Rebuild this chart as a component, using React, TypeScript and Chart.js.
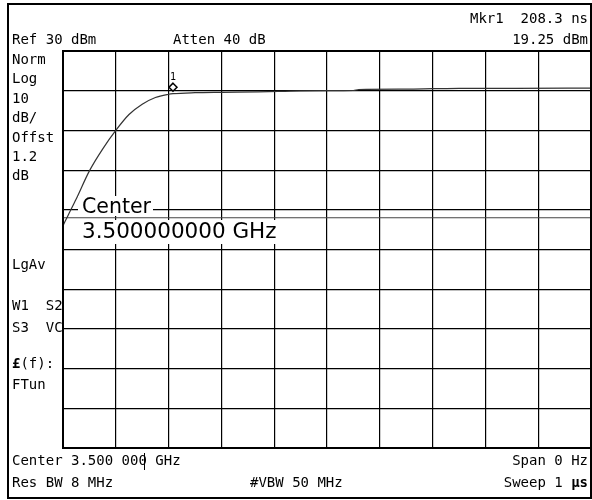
import React, { useEffect, useRef } from "react";
import { Chart, registerables } from "chart.js";
Chart.register(...registerables);

// Sweep time (ns) and measured trace level (dBm)
const sweepTimesNs = [0, 10, 25, 50, 75, 100, 125, 150, 175, 200, 208.3, 250, 300, 370, 420, 450, 500, 550, 560, 650, 700, 750, 850, 1000];
const traceDbm = [-14, -11.3, -7.3, -0.2, 5.3, 10, 14.0, 16.6, 18.3, 19.1, 19.25, 19.5, 19.6, 19.7, 19.85, 19.95, 20.0, 20.05, 20.3, 20.4, 20.5, 20.6, 20.6, 20.65];
const displayLineDbm = -12;
const markerTimeNs = 208.3;
const markerDbm = 19.25;
const xRange = [0, 1000];
const yRange = [-70, 30];

const headerLeft = ["Ref 30 dBm", "Atten 40 dB"];
const headerRight = ["Mkr1  208.3 ns", "19.25 dBm"];
const sidePanel = ["Norm", "Log", "10", "dB/", "Offst", "1.2", "dB"];
const sidePanel2 = ["LgAv", "W1  S2", "S3  VC"];
const footerLeft = ["Center 3.500 000 GHz", "Res BW 8 MHz"];
const footerMid = "#VBW 50 MHz";
const footerRight = ["Span 0 Hz", "Sweep 1 "];
const bigLabel = ["Center", "3.500000000 GHz"];

const MONO = "14px 'DejaVu Sans Mono', monospace";

export default function App() {
  const ref = useRef<HTMLCanvasElement | null>(null);
  useEffect(() => {
    const canvas = ref.current!;
    const overlay = {
      id: "overlay",
      beforeDraw(chart: any) {
        const c = chart.ctx;
        c.save();
        c.fillStyle = "#fff";
        c.fillRect(0, 0, chart.width, chart.height);
        c.restore();
      },
      afterDatasetsDraw(chart: any) {
        const c = chart.ctx;
        const { left, top, right, bottom } = chart.chartArea;
        const xs = chart.scales.x;
        const ys = chart.scales.y;
        c.save();
        // plot border
        c.strokeStyle = "#000";
        c.lineWidth = 2;
        c.strokeRect(left, top, right - left, bottom - top);
        // marker diamond
        const mx = xs.getPixelForValue(markerTimeNs);
        const my = ys.getPixelForValue(markerDbm) - 6.5;
        c.lineWidth = 1.5;
        c.beginPath();
        c.moveTo(mx, my - 4);
        c.lineTo(mx + 4, my);
        c.lineTo(mx, my + 4);
        c.lineTo(mx - 4, my);
        c.closePath();
        c.fillStyle = "#fff";
        c.fill();
        c.stroke();
        c.fillStyle = "#000";
        c.font = "10px 'DejaVu Sans Mono', monospace";
        c.textAlign = "center";
        c.fillText("1", mx, my - 7);
        // big center label boxes
        c.textAlign = "left";
        c.font = "20.5px 'DejaVu Sans', sans-serif";
        const w1 = c.measureText(bigLabel[0]).width;
        c.font = "21.5px 'DejaVu Sans', sans-serif";
        const w2 = c.measureText(bigLabel[1]).width;
        c.fillStyle = "#fff";
        c.fillRect(78, 196, w1 + 6, 20);
        c.fillRect(78, 220, w2 + 6, 24);
        c.fillStyle = "#000";
        c.font = "20.5px 'DejaVu Sans', sans-serif";
        c.fillText(bigLabel[0], 82, 213);
        c.font = "21.5px 'DejaVu Sans', sans-serif";
        c.fillText(bigLabel[1], 82, 238);
        // header texts
        c.font = MONO;
        c.fillText(headerLeft[0], 12, 44);
        c.fillText(headerLeft[1], 173, 44);
        c.textAlign = "right";
        c.fillText(headerRight[0], 588, 23);
        c.fillText(headerRight[1], 588, 44);
        c.textAlign = "left";
        const sideY = [64, 83, 103, 122, 142, 161, 180];
        sidePanel.forEach((s, i) => c.fillText(s, 12, sideY[i]));
        const side2Y = [269, 310, 332];
        sidePanel2.forEach((s, i) => c.fillText(s, 12, side2Y[i]));
        c.font = "bold 14px 'DejaVu Sans Mono', monospace";
        c.fillText("£", 12, 368);
        const lw = c.measureText("£").width;
        c.font = MONO;
        c.fillText("(f):", 12 + lw, 368);
        c.fillText("FTun", 12, 389);
        // footer
        c.fillText(footerLeft[0], 12, 465);
        c.fillText(footerLeft[1], 12, 487);
        c.fillText(footerMid, 250, 487);
        c.textAlign = "right";
        c.fillText(footerRight[0], 588, 465);
        c.font = "bold 14px 'DejaVu Sans Mono', monospace";
        c.fillText("µs", 588, 487);
        const mw = c.measureText("µs").width;
        c.font = MONO;
        c.fillText(footerRight[1], 588 - mw, 487);
        // cursor bar
        c.lineWidth = 1;
        c.beginPath();
        c.moveTo(144.5, 453);
        c.lineTo(144.5, 470);
        c.stroke();
        // outer frame
        c.lineWidth = 2;
        c.strokeRect(8, 4, 583, 494);
        c.restore();
      },
    };
    const chart = new Chart(canvas, {
      type: "line",
      data: {
        datasets: [
          {
            data: sweepTimesNs.map((t, i) => ({ x: t, y: traceDbm[i] })),
            borderColor: "#333",
            borderWidth: 1.2,
            pointRadius: 0,
            cubicInterpolationMode: "monotone",
          },
          {
            data: [
              { x: xRange[0], y: displayLineDbm },
              { x: xRange[1], y: displayLineDbm },
            ],
            borderColor: "#444",
            borderWidth: 1.2,
            pointRadius: 0,
          },
        ],
      },
      options: {
        animation: false,
        responsive: false,
        devicePixelRatio: 1,
        layout: { padding: { left: 63, top: 51, right: 1, bottom: 52 } },
        plugins: { legend: { display: false }, tooltip: { enabled: false } },
        scales: {
          x: {
            type: "linear",
            min: xRange[0],
            max: xRange[1],
            ticks: { display: false, stepSize: 100 },
            grid: { color: "#000", lineWidth: 1.2, drawTicks: false },
            border: { display: true, color: "#000", width: 2 },
          },
          y: {
            type: "linear",
            min: yRange[0],
            max: yRange[1],
            ticks: { display: false, stepSize: 10 },
            grid: { color: "#000", lineWidth: 1.2, drawTicks: false },
            border: { display: true, color: "#000", width: 2 },
          },
        },
      },
      plugins: [overlay],
    });
    return () => chart.destroy();
  }, []);
  return (
    <div style={{ position: "fixed", left: 0, top: 0, width: 592, height: 500 }}>
      <canvas ref={ref} width={592} height={500} style={{ width: 592, height: 500, display: "block" }} />
    </div>
  );
}
